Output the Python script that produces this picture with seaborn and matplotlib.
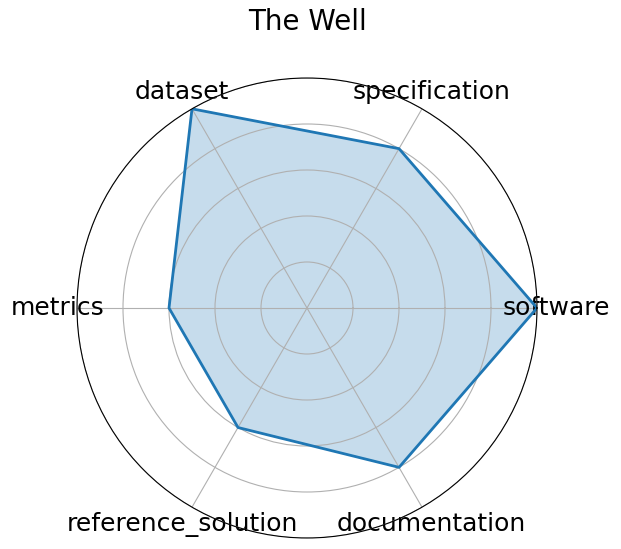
import numpy as np
import pandas as pd
import matplotlib
matplotlib.use("Agg")
import matplotlib.pyplot as plt
import seaborn as sns

# Data
categories = ["software", "specification", "dataset", "metrics",
              "reference_solution", "documentation"]
scores = [5, 4, 5, 3, 3, 4]
title = "The Well"

n = len(categories)
angles = np.linspace(0, 2 * np.pi, n, endpoint=False)
# close the polygon at 2*pi so the first/last angles don't get merged
closed_angles = np.append(angles, 2 * np.pi)
closed_scores = scores + scores[:1]
df = pd.DataFrame({"angle": closed_angles, "score": closed_scores})

fig = plt.figure(figsize=(6.21, 5.49), dpi=100)
ax = fig.add_axes([77 / 621, 11 / 549, 460 / 621, 460 / 549], polar=True)

sns.lineplot(data=df, x="angle", y="score", ax=ax, sort=False,
             estimator=None, color="#1f77b4", linewidth=2)
ax.fill(closed_angles, closed_scores, color="#1f77b4", alpha=0.25)

ax.set_ylim(0, 5)
ax.set_rgrids([1, 2, 3, 4, 5])
ax.set_yticklabels([])
ax.set_thetagrids(np.degrees(angles), categories, fontsize=18)
ax.set_xlabel("")
ax.set_ylabel("")
ax.grid(True, color="#b0b0b0", linewidth=0.8)

fig.text(307 / 621, 1 - 22 / 549, title, ha="center", va="center", fontsize=20)

fig.savefig("out.png", dpi=100)
